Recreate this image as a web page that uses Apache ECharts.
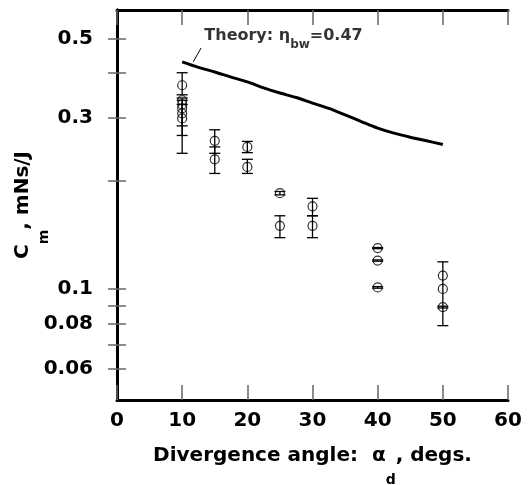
<!DOCTYPE html>
<html>
<head>
<meta charset="utf-8">
<script src="https://cdn.jsdelivr.net/npm/echarts@6/dist/echarts.min.js"></script>
<style>html,body{margin:0;padding:0;background:#fff;}#c{width:530px;height:485px;}</style>
</head>
<body>
<div id="c"></div>
<script>
// Theory curve (eta_bw = 0.47)
const theoryAngle = [10, 12.5, 15, 17.5, 20, 22.5, 25, 27.5, 30, 32.5, 35, 37.5, 40, 42.5, 45, 47.5, 50];
const theoryCm    = [0.43, 0.415, 0.403, 0.39, 0.378, 0.364, 0.352, 0.342, 0.33, 0.319, 0.306, 0.293, 0.281, 0.272, 0.265, 0.259, 0.253];

// Measured points
const pointAngle = [10, 10, 10, 10, 10, 10, 15, 15, 20, 20, 25, 25, 30, 30, 40, 40, 40, 50, 50, 50];
const pointCm    = [0.37, 0.336, 0.327, 0.319, 0.309, 0.299, 0.259, 0.230, 0.249, 0.219, 0.185, 0.150, 0.170, 0.150, 0.130, 0.120, 0.101, 0.109, 0.100, 0.089];

// Error bars
const errAngle = [10, 10, 10, 10, 15, 15, 20, 20, 25, 25, 30, 30, 40, 40, 40, 50, 50];
const errLow   = [0.348, 0.285, 0.268, 0.239, 0.239, 0.210, 0.240, 0.210, 0.183, 0.139, 0.160, 0.139, 0.1295, 0.1195, 0.1005, 0.079, 0.0885];
const errHigh  = [0.401, 0.341, 0.336, 0.327, 0.278, 0.249, 0.258, 0.230, 0.187, 0.160, 0.179, 0.160, 0.1305, 0.1205, 0.1015, 0.119, 0.0895];

// Axis ticks
const xTicks = [0, 10, 20, 30, 40, 50, 60];
const yTickValues  = [0.06, 0.07, 0.08, 0.09, 0.1, 0.2, 0.3, 0.4, 0.5];
const yLabelValues = [0.06, 0.08, 0.1, 0.3, 0.5];

// Annotation
const leaderAngle = [11.7, 12.9];
const leaderCm = [0.43, 0.47];
const annoAngle = [13.4];
const annoCm = [0.497];

const FONT = 'DejaVu Sans';
const chart = echarts.init(document.getElementById('c'), null, {renderer: 'canvas'});

const tickStyle = {color: '#666', width: 1.5};
const frame = {show: true, lineStyle: {color: '#000', width: 3}};
const yFmt = v => String(+(+v).toPrecision(3));

const option = {
  animation: false,
  backgroundColor: '#fff',
  grid: {left: 117, right: 22, top: 10, bottom: 85, containLabel: false, outerBoundsMode: 'none'},
  xAxis: [{
    type: 'value', min: xTicks[0], max: xTicks[xTicks.length - 1], interval: 10,
    axisLine: frame,
    axisTick: {show: true, inside: true, length: 15, lineStyle: tickStyle},
    axisLabel: {show: true, margin: 11, color: '#000', fontFamily: FONT, fontWeight: 'bold', fontSize: 20,
      formatter: v => String(v)},
    splitLine: {show: false},
    name: '{a|Divergence angle:  α}{sub|d}{a|, degs.}',
    nameLocation: 'middle', nameGap: 46,
    nameTextStyle: {
      color: '#000', fontFamily: FONT, fontWeight: 'bold', fontSize: 20,
      rich: {
        a: {color: '#000', fontFamily: FONT, fontWeight: 'bold', fontSize: 20, verticalAlign: 'top'},
        sub: {color: '#000', fontFamily: FONT, fontWeight: 'bold', fontSize: 14, verticalAlign: 'top', padding: [27, 0, 0, 0]}
      }
    }
  }, {
    type: 'value', position: 'top', min: xTicks[0], max: xTicks[xTicks.length - 1], interval: 10,
    axisLine: frame,
    axisTick: {show: true, inside: true, length: 15, lineStyle: tickStyle},
    axisLabel: {show: false}, splitLine: {show: false}
  }],
  yAxis: [{
    type: 'log', logBase: 10, min: 0.049, max: 0.6,
    axisLine: frame,
    axisTick: {show: true, inside: true, length: 9, lineStyle: tickStyle, customValues: yTickValues},
    axisLabel: {show: true, margin: 24, color: '#000', fontFamily: FONT, fontWeight: 'bold', fontSize: 20,
      customValues: yLabelValues, formatter: yFmt},
    minorTick: {show: false},
    splitLine: {show: false},
    name: '{a|C}{sub|m}{a|, mNs/J}',
    nameLocation: 'middle', nameGap: 66, nameMoveOverlap: false,
    nameTextStyle: {
      color: '#000', fontFamily: FONT, fontWeight: 'bold', fontSize: 20,
      rich: {
        a: {color: '#000', fontFamily: FONT, fontWeight: 'bold', fontSize: 20, verticalAlign: 'top'},
        sub: {color: '#000', fontFamily: FONT, fontWeight: 'bold', fontSize: 14, verticalAlign: 'top', padding: [24, 0, 0, 0]}
      }
    }
  }, {
    type: 'log', logBase: 10, min: 0.049, max: 0.6, position: 'right',
    axisLine: frame,
    axisTick: {show: true, inside: true, length: 9, lineStyle: tickStyle, customValues: yTickValues},
    axisLabel: {show: false}, splitLine: {show: false}
  }],
  series: [
    {
      type: 'line', name: 'theory', xAxisIndex: 0, yAxisIndex: 0,
      data: theoryAngle.map((a, i) => [a, theoryCm[i]]),
      showSymbol: false, symbol: 'none', smooth: 0.3,
      lineStyle: {color: '#000', width: 3}, z: 3
    },
    {
      type: 'line', name: 'leader',
      data: leaderAngle.map((a, i) => [a, leaderCm[i]]),
      showSymbol: false, symbol: 'none',
      lineStyle: {color: '#000', width: 1}
    },
    {
      type: 'scatter', name: 'anno',
      data: annoAngle.map((a, i) => [a, annoCm[i]]),
      symbolSize: 0,
      label: {
        show: true, position: 'right', distance: 0,
        formatter: '{a|Theory: η}{sub|bw}{a|=0.47}',
        rich: {
          a: {color: '#000', fontFamily: FONT, fontWeight: 'bold', fontSize: 16, verticalAlign: 'top'},
          sub: {color: '#000', fontFamily: FONT, fontWeight: 'bold', fontSize: 12, verticalAlign: 'top', padding: [11, 0, 0, 0]}
        }
      },
      silent: true
    },
    {
      type: 'custom', name: 'err',
      data: errAngle.map((a, i) => [a, errLow[i], errHigh[i]]),
      encode: {x: 0, y: [1, 2]},
      renderItem: function (params, api) {
        const x = api.value(0), lo = api.value(1), hi = api.value(2);
        const pLo = api.coord([x, lo]), pHi = api.coord([x, hi]);
        const hw = 5.5;
        const st = {stroke: '#000', lineWidth: 1.3};
        return {type: 'group', children: [
          {type: 'line', shape: {x1: pLo[0], y1: pLo[1], x2: pHi[0], y2: pHi[1]}, style: st},
          {type: 'line', shape: {x1: pLo[0] - hw, y1: pLo[1], x2: pLo[0] + hw, y2: pLo[1]}, style: st},
          {type: 'line', shape: {x1: pHi[0] - hw, y1: pHi[1], x2: pHi[0] + hw, y2: pHi[1]}, style: st}
        ]};
      },
      z: 2
    },
    {
      type: 'scatter', name: 'data',
      data: pointAngle.map((a, i) => [a, pointCm[i]]),
      symbol: 'circle', symbolSize: 9,
      itemStyle: {color: 'rgba(0,0,0,0)', borderColor: '#000', borderWidth: 1.2},
      z: 4
    }
  ]
};
chart.setOption(option);
</script>
</body>
</html>
